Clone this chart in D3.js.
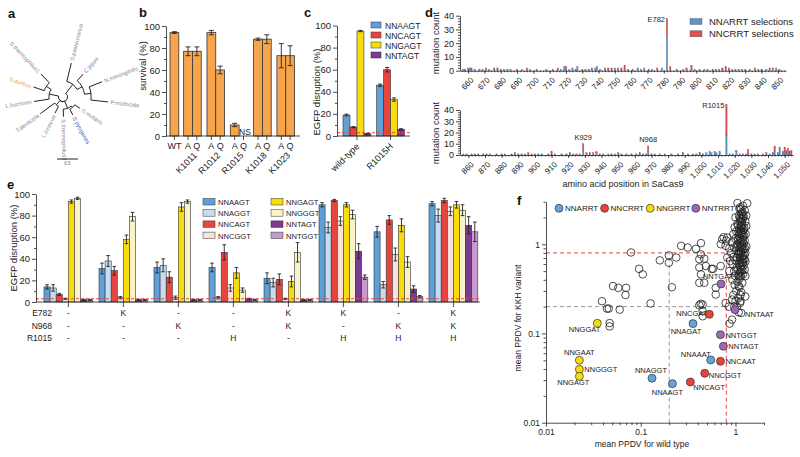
<!DOCTYPE html>
<html><head><meta charset="utf-8">
<script src="https://cdn.jsdelivr.net/npm/d3@7"></script>
<style>body{margin:0;background:#fff} svg{display:block}</style>
</head><body>
<svg id="c" width="800" height="457"></svg>
<script>
// ---------------- DATA ----------------
// a: tree (branch lengths)
const treeData = {len:0.12, children:[
 {len:0.3, children:[{name:"S.pasteurianus",len:0.5},{len:0.15,children:[{name:"C.jejuni",len:0.23},{len:0.17,children:[{name:"N.meningitidis",len:0.36},{name:"P.multocida",len:0.45}]}]}]},
 {len:0.2, children:[{len:0.05,children:[{name:"S.mutans",len:0.17},{name:"S.pyogenes",len:0.17}]},{name:"S.thermophilus3",len:0.2}]},
 {len:0.15, children:[{name:"L.innocua",len:0.2},{name:"T.denticola",len:0.47}]},
 {len:0.25, children:[{name:"L.buchneri",len:0.4},{len:0.15,children:[{name:"S.aureus",len:0.3},{name:"S.thermophilus1",len:0.32}]}]}
]};
const treeHighlight = {"S.aureus":"#f2a444","S.pyogenes":"#3c64b4"};

// b
const bBarLabels = ["WT","A","Q","A","Q","A","Q","A","Q","A","Q"];
const bGroupLabels = ["K1011","R1012","R1015","K1018","K1023"];
const bSurvival = [94,77,77,94,60,10,0,88,88,73,73];
const bError = [0.8,4,4,2,3.5,1.5,0,1,4,11,9];

// c
const cGroups = ["wild-type","R1015H"];
const cSeries = ["NNAAGT","NNCAGT","NNGAGT","NNTAGT"];
const cValues = [[19,8,95,2],[46,60,33,6]];
const cError = [[0.8,0.5,0.6,0.3],[1,2,1.5,0.6]];

// d  [position, NNARRT count, NNCRRT count]
const dTop = [
[657,1,0],[658,0,1],[660,2,0],[661,2,0],[662,1,1],[664,1,0],[667,0,1],[669,1,0],[671,0,2],[673,1,0],[676,1,1],[678,0,2],[680,1,0],[682,1,0],[684,0,1],[686,1,0],[690,0,1],[693,1,0],[696,0,2],[698,1,0],[702,1,0],[708,1,0],[712,0,1],[715,0,2],[717,1,0],[719,3,0],[720,0,3],[722,1,0],[724,2,0],[726,0,1],[727,3,0],[730,0,1],[732,1,0],[734,0,1],[736,1,1],[738,2,0],[739,3,0],[741,1,0],[744,0,2],[746,1,1],[748,0,2],[750,2,0],[752,1,1],[754,0,2],[756,0,4],[758,1,0],[761,0,1],[764,2,0],[766,1,0],[768,2,0],[771,0,1],[773,1,0],[776,0,2],[779,2,0],[782,25,13],[784,0,3],[788,1,0],[792,1,0],[794,0,2],[797,0,4],[799,1,0],[802,1,0],[805,1,0],[807,0,1],[810,1,0],[812,0,1],[814,1,0],[816,1,1],[818,0,3],[820,0,2],[822,1,0],[824,0,1],[826,1,0],[828,1,0],[830,0,1],[833,1,0],[836,0,2],[838,1,0],[840,0,1],[843,1,0],[845,0,2],[847,1,1],[849,2,0],[851,0,1]
];
const dBottom = [
[857,1,0],[859,0,1],[862,1,0],[864,0,1],[866,1,0],[869,0,1],[871,1,0],[873,0,1],[877,1,0],[880,0,1],[882,1,0],[886,0,1],[888,1,1],[890,1,0],[892,0,1],[894,1,0],[896,0,2],[898,1,0],[900,0,1],[902,1,0],[904,1,0],[908,1,0],[910,0,3],[912,0,1],[916,1,0],[919,0,1],[921,1,1],[923,1,0],[925,0,1],[927,1,0],[929,4,6],[931,0,2],[933,1,1],[935,0,2],[937,2,1],[939,0,1],[941,1,0],[944,1,0],[946,0,1],[948,1,0],[950,0,2],[952,1,0],[955,1,0],[958,0,1],[961,1,0],[963,1,1],[965,0,1],[967,1,0],[968,3,5],[970,0,1],[972,1,0],[975,0,1],[978,1,0],[982,1,0],[986,0,1],[989,1,1],[992,1,0],[995,0,1],[997,1,0],[999,1,1],[1001,0,1],[1003,2,0],[1005,3,0],[1006,2,0],[1008,3,0],[1009,2,0],[1011,3,0],[1015,17,28],[1017,1,0],[1019,1,0],[1021,3,1],[1023,1,0],[1025,0,1],[1027,1,0],[1028,0,5],[1030,1,0],[1032,1,0],[1034,0,1],[1037,1,0],[1039,0,2],[1041,1,0],[1043,1,1],[1044,3,5],[1046,2,0],[1047,7,0],[1049,1,2],[1050,3,4],[1051,1,3],[1052,0,6],[1053,2,1],[1054,0,4]
];
const dTopTicks = d3.range(660, 851, 10);
const dBottomTicks = d3.range(860, 1051, 10);
const dTopNotes = [[782,"E782"]];
const dBottomNotes = [[929,"K929"],[968,"N968"],[1015,"R1015"]];

// e
const eSeries = ["NNAAGT","NNAGGT","NNCAGT","NNCGGT","NNGAGT","NNGGGT","NNTAGT","NNTGGT"];
const eE782  = ["-","K","-","-","K","K","-","K"];
const eN968  = ["-","-","K","-","K","-","K","K"];
const eR1015 = ["-","-","-","H","-","H","H","H"];
const eValues = [
 [14,31,32,32,22,90,65,91],
 [13,38,34,4,18,69,16,80],
 [7,29,23,46,21,94,76,94],
 [3,4,4,13,3,75,44,84],
 [93,58,88,27,19,90,71,90],
 [96,79,93,11,46,81,37,85],
 [2,2,2,3,2,47,12,71],
 [2,2,2,2,2,23,5,65]
];
const eError = [
 [2,5,5,4,5,2,5,2],
 [3,5,6,1,4,5,3,6],
 [1,4,5,7,5,1,4,2],
 [0.5,1,1.5,3,0.5,4,6,4],
 [1.5,4,4,5,5,2,6,3],
 [1,4,1.5,2,9,4,5,5],
 [0.5,0.5,0.5,0.5,0.5,7,3,8],
 [0.5,0.5,0.5,0.5,0.5,2,1,9]
];

// f
const fLegend = ["NNARRT","NNCRRT","NNGRRT","NNTRRT"];
const fLabNames = ["NNGGAT","NNGAAT","NNGGGT","NNGAGT","NNAGGT","NNAAGT","NNCAGT","NNCGGT","NNAAAT","NNCAAT","NNTAGT","NNTGGT","NNAGAT","NNCGAT","NNTAAT","NNTGAT"];
const fLabX = [0.0348,0.0225,0.0225,0.0225,0.1315,0.216,0.334,0.474,0.548,0.694,0.745,0.694,0.356,0.53,0.99,0.705];
const fLabY = [0.130,0.0501,0.0397,0.0331,0.0315,0.0274,0.0286,0.0358,0.0505,0.0488,0.0719,0.097,0.129,0.164,0.185,0.359];
const fOpen = [
[0.079,0.81],[0.096,0.53],[0.105,0.46],[0.051,0.34],[0.058,0.325],[0.07,0.325],[0.069,0.27],[0.039,0.23],[0.044,0.19],[0.046,0.19],[0.06,0.185],[0.127,0.217],[0.159,0.66],[0.198,0.75],[0.198,0.62],[0.237,0.71],[0.213,0.33],[0.267,0.96],[0.313,0.92],[0.383,0.89],[0.432,1.03],[0.432,0.77],[0.415,0.68],[0.468,0.69],[0.415,0.55],[0.487,0.57],[0.58,0.53],[0.698,0.57],[0.432,0.46],[0.415,0.37],[0.468,0.37],[0.619,0.325],[0.619,0.273],[0.415,0.207],[0.45,0.211],[0.43,0.215],[0.45,0.178],[0.725,1.14],[0.787,0.96],[0.818,0.71],[0.047,0.131],[0.047,0.12],[0.45,0.156],[0.787,0.22],[0.92,0.143],[0.866,0.129],[1.08,0.173],[1.13,0.23],
[0.818,1.19],[0.56,0.53],[1.08,0.44],[1.27,0.44],[1.08,0.34],[1.13,0.27],[1.27,0.26],[1.04,0.2],[1.15,0.17],[0.85,0.2],[0.92,0.24],[0.75,1.2],[0.8,1.1],[0.7,1.0],[0.86,0.9],[0.88,0.65],[0.86,0.5],
[1.05,2.9],[1.33,2.88],[1.2,2.7],[1.1,2.5],[1.25,2.4],[1.15,2.2],[1.3,2.1],[1.0,2.0],[1.2,1.95],[1.12,1.85],[1.27,1.8],[1.05,1.7],[1.18,1.65],[1.3,1.6],[0.98,1.55],[1.1,1.5],[1.22,1.45],[1.02,1.4],[1.15,1.35],[1.28,1.3],[0.95,1.3],[1.08,1.25],[1.2,1.2],[1.0,1.15],[1.12,1.1],[1.25,1.1],[0.92,1.05],[1.05,1.0],[1.18,0.98],[1.3,0.95],[0.97,0.92],[1.1,0.9],[1.22,0.88],[1.02,0.85],[1.15,0.82],[0.9,0.8],[1.27,0.8],[1.07,0.77],[1.2,0.74],[0.95,0.72],[1.12,0.7],[1.25,0.68],[1.0,0.66],[1.17,0.63],[0.93,0.6],[1.08,0.6],[1.22,0.58],[1.03,0.55],[1.15,0.53],[0.97,0.5],[1.1,0.48],[1.2,0.46],[1.0,0.44],[1.12,0.42],[0.93,0.4],[1.05,0.38],[1.18,0.37],[0.98,0.35],[1.1,0.33],[1.02,0.3],[1.15,0.29],[0.95,0.27],[1.07,0.25],[1.0,0.23],[1.12,0.22],[0.97,0.2],
[1.13,1.75],[1.16,1.55],[1.14,1.42],[1.17,1.28],[1.11,1.18],[1.16,1.05],[1.13,0.94],[1.19,0.86],[1.1,0.78],[1.17,0.72],[1.13,0.66],[1.2,0.62],[1.12,0.56],[1.18,0.51],[1.14,0.44],[1.06,1.62],[1.24,1.52],[1.08,1.38],[1.23,1.25],[1.06,1.12],[1.22,1.02],[1.04,0.96],[1.26,0.9],[1.09,0.83],[1.24,0.76],[1.04,0.71],[1.27,0.64],[1.06,0.52],[1.25,0.52],[1.08,0.46],[1.09,2.1],[1.18,2.3],[1.12,2.6],[1.22,2.05],[1.15,1.95],
[1.14,2.45],[1.19,2.15],[1.11,1.98],[1.17,1.78],[1.14,1.6],[1.2,1.38],[1.1,1.3],[1.15,1.15],[1.19,1.1],[1.12,1.02],[1.17,0.92],[1.14,0.8],[1.21,0.68],[1.11,0.62],[1.16,0.58],[1.13,0.49]
];

// ---------------- STYLE ----------------
const FONT = "'Liberation Sans', Arial, sans-serif";
const INK = "#222";
const C = {blue:"#5fa0d8", lblue:"#c6dcf0", red:"#e8443e", pink:"#fbe0de", yellow:"#f9dc0e", lyellow:"#faf3c8", purple:"#7b3a93", lpurple:"#c79ccc", orange:"#f6a54c"};
const cColors = [C.blue, C.red, C.yellow, C.purple];
const eColors = [C.blue, C.lblue, C.red, C.pink, C.yellow, C.lyellow, C.purple, C.lpurple];
const fColors = ["#66a3d9","#e8443e","#f7da12","#9c68b4"];

const svg = d3.select("#c").attr("font-family", FONT);
svg.append("rect").attr("width",800).attr("height",457).attr("fill","#fff");

function styleAxis(sel, fs){
  sel.attr("font-size", fs).attr("font-family", FONT);
  sel.selectAll("line,path").attr("stroke", INK).attr("stroke-width", 0.8);
  sel.selectAll("text").attr("fill", INK);
}
function yAxis(x, scale, majors, minors, fs, fmt){
  const g = svg.append("g").attr("transform", `translate(${x},0)`);
  g.call(d3.axisLeft(scale).tickValues(majors).tickSize(4).tickSizeOuter(0).tickPadding(2).tickFormat(fmt || d3.format("d")));
  const m = g.append("g").call(d3.axisLeft(scale).tickValues(minors).tickSize(2).tickFormat(""));
  m.select(".domain").remove();
  styleAxis(g, fs);
  return g;
}
function text(x, y, s, opt={}){
  const t = svg.append("text").attr("x", x).attr("y", y).text(s)
    .attr("font-size", opt.fs || 9).attr("fill", opt.fill || INK)
    .attr("text-anchor", opt.anchor || "start");
  if (opt.bold) t.attr("font-weight", "bold");
  if (opt.rot !== undefined) t.attr("transform", `rotate(${opt.rot},${x},${y})`);
  return t;
}
function errBar(x, y1, y2, w){
  svg.append("line").attr("x1",x).attr("x2",x).attr("y1",y1).attr("y2",y2).attr("stroke",INK).attr("stroke-width",0.9);
  svg.append("line").attr("x1",x-w/2).attr("x2",x+w/2).attr("y1",y1).attr("y2",y1).attr("stroke",INK).attr("stroke-width",0.9);
  svg.append("line").attr("x1",x-w/2).attr("x2",x+w/2).attr("y1",y2).attr("y2",y2).attr("stroke",INK).attr("stroke-width",0.9);
}

// panel letters
[["a",8,18],["b",139,17],["c",304,17],["d",425,17],["e",7,189],["f",517,205]].forEach(p=>text(p[1],p[2],p[0],{fs:13,bold:true,fill:"#111"}));

// ---------------- A: tree ----------------
(function(){
  const cx = 63, cy = 97, k = 38;
  const root = d3.hierarchy(treeData);
  const n = root.leaves().length;
  d3.cluster().size([2*Math.PI*(n-1)/n, 1]).separation(()=>1)(root);
  root.each(d => { d.r = (d.parent ? d.parent.r : 0) + d.data.len * k; });
  const pt = (a, r) => [cx + r*Math.cos(a - Math.PI/2), cy + r*Math.sin(a - Math.PI/2)];
  const g = svg.append("g");
  root.links().forEach(l => {
    const s = l.source, t = l.target;
    const p0 = pt(s.x, s.r), p1 = pt(t.x, s.r), p2 = pt(t.x, t.r);
    const sweep = t.x > s.x ? 1 : 0;
    const large = Math.abs(t.x - s.x) > Math.PI ? 1 : 0;
    g.append("path").attr("d", `M${p0}A${s.r},${s.r} 0 ${large} ${sweep} ${p1}L${p2}`)
      .attr("fill","none").attr("stroke","#222").attr("stroke-width",1);
  });
  root.leaves().forEach(d => {
    const deg = d.x*180/Math.PI - 90;
    const norm = ((deg % 360) + 360) % 360;
    const flip = norm > 90.5 && norm <= 270.5;
    const [x, y] = pt(d.x, d.r + 2.5);
    g.append("text").attr("x", x).attr("y", y).attr("dy","0.35em")
      .attr("transform", `rotate(${flip ? deg-180 : deg},${x},${y})`)
      .attr("text-anchor", flip ? "end" : "start")
      .attr("font-size", 5.7).attr("fill", treeHighlight[d.data.name] || "#8a8a8a")
      .text(d.data.name);
  });
  svg.append("line").attr("x1",57).attr("x2",78).attr("y1",159).attr("y2",159).attr("stroke","#222").attr("stroke-width",1);
  text(67.5, 165, "0.5", {fs:4.5, anchor:"middle", fill:"#666"});
})();

// ---------------- B ----------------
(function(){
  const ax = 166;
  const y = d3.scaleLinear().domain([0,100]).range([136,26]);
  const x = d3.scaleLinear().domain([0,1]).range([170,178.8]);
  const slot = i => i === 0 ? 0 : 1.55 + Math.floor((i-1)/2)*2.65 + (i-1)%2;
  const bw = x(1)-x(0);
  bSurvival.forEach((v,i)=>{
    svg.append("rect").attr("x", x(slot(i))).attr("width", bw).attr("y", y(v)).attr("height", y(0)-y(v))
      .attr("fill", C.orange).attr("stroke", "#333").attr("stroke-width", 0.8);
    if (bError[i] > 0) errBar(x(slot(i))+bw/2, y(v+bError[i]), y(v-bError[i]), 5);
  });
  yAxis(ax, y, d3.range(0,101,20), d3.range(10,100,20), 9.5);
  svg.append("line").attr("x1",ax).attr("x2",300).attr("y1",136).attr("y2",136).attr("stroke",INK).attr("stroke-width",0.8);
  bBarLabels.forEach((s,i)=>{
    const cxp = x(slot(i))+bw/2;
    svg.append("line").attr("x1",cxp).attr("x2",cxp).attr("y1",136).attr("y2",140).attr("stroke",INK).attr("stroke-width",0.8);
    text(cxp, 149, s, {fs:9, anchor:"middle"});
  });
  bGroupLabels.forEach((s,g)=>{
    const gc = x(1.55 + g*2.65 + 1);
    text(gc+5, 156, s, {fs:9, anchor:"end", rot:-45});
  });
  text(239, 135, "NS", {fs:8.5});
  text(146, 66, "survival (%)", {fs:9.5, anchor:"middle", rot:-90});
})();

// ---------------- C ----------------
(function(){
  const y = d3.scaleLinear().domain([0,100]).range([136,25.5]);
  const xg = d3.scaleBand().domain(cGroups).range([343, 404.5]).paddingInner(0.17);
  const xs = d3.scaleBand().domain(cSeries).range([0, xg.bandwidth()]);
  cGroups.forEach((gname, gi)=>{
    cSeries.forEach((sname, si)=>{
      const v = cValues[gi][si];
      const bx = xg(gname)+xs(sname);
      svg.append("rect").attr("x", bx).attr("width", xs.bandwidth()).attr("y", y(v)).attr("height", y(0)-y(v))
        .attr("fill", cColors[si]).attr("stroke","#333").attr("stroke-width",0.6);
      errBar(bx+xs.bandwidth()/2, y(v+cError[gi][si]), y(v-cError[gi][si]), 4);
    });
  });
  svg.append("line").attr("x1",337).attr("x2",410).attr("y1",y(3)).attr("y2",y(3)).attr("stroke",C.red).attr("stroke-width",1).attr("stroke-dasharray","3,2");
  yAxis(337, y, d3.range(0,101,20), d3.range(10,100,20), 9.5);
  svg.append("line").attr("x1",337).attr("x2",410).attr("y1",136).attr("y2",136).attr("stroke",INK).attr("stroke-width",0.8);
  cGroups.forEach(gname=>{
    const gc = xg(gname)+xg.bandwidth()/2;
    svg.append("line").attr("x1",gc).attr("x2",gc).attr("y1",136).attr("y2",140).attr("stroke",INK).attr("stroke-width",0.8);
    text(gc+3, 147, gname, {fs:9, anchor:"end", rot:-45});
  });
  cSeries.forEach((s,i)=>{
    svg.append("rect").attr("x",371).attr("y",22+i*10).attr("width",10).attr("height",6).attr("fill",cColors[i]).attr("stroke","#333").attr("stroke-width",0.5);
    text(385, 28.5+i*10, s, {fs:8.5});
  });
  text(320, 92, "EGFP disruption (%)", {fs:9.5, anchor:"middle", rot:-90});
})();

// ---------------- D ----------------
function dPanel(data, domain, range, y0, y40, ticks, notes, noteSide){
  const x = d3.scaleLinear().domain(domain).range(range);
  const y = d3.scaleLinear().domain([0,40]).range([y0, y40]);
  const bw = (x(1)-x(0))*0.85;
  data.forEach(([p,a,c])=>{
    if (a>0) svg.append("rect").attr("x", x(p)-bw/2).attr("width", bw).attr("y", y(a)).attr("height", y(0)-y(a))
      .attr("fill", "#5b93cc").attr("stroke","#4a6f96").attr("stroke-width",0.3);
    if (c>0) svg.append("rect").attr("x", x(p)-bw/2).attr("width", bw).attr("y", y(a+c)).attr("height", y(a)-y(a+c))
      .attr("fill", "#de4f50").attr("stroke","#9a4a4a").attr("stroke-width",0.3);
  });
  yAxis(range[0], y, d3.range(0,41,10), d3.range(0,41,2).filter(v=>v%10), 9);
  const gx = svg.append("g").attr("transform", `translate(0,${y0})`);
  gx.call(d3.axisBottom(x).tickValues(ticks).tickSize(3).tickSizeOuter(0).tickFormat(""));
  const gm = gx.append("g").call(d3.axisBottom(x).tickValues(d3.range(Math.ceil(domain[0]/2)*2, domain[1]+1, 2)).tickSize(1.5).tickFormat(""));
  gm.select(".domain").remove();
  styleAxis(gx, 8);
  ticks.forEach(t=>{
    text(x(t)+4, y0+8, d3.format(",")(t), {fs:8, anchor:"end", rot:-45}).attr("dy","0.35em");
  });
  notes.forEach(([p,s])=>{
    const tot = data.find(d=>d[0]===p);
    const top = y(tot[1]+tot[2]);
    if (noteSide[s]==="left") text(x(p)-2, top+4, s, {fs:7.5, anchor:"end"});
    else text(x(p), top-4, s, {fs:7.5, anchor:"middle"});
  });
  return x;
}
dPanel(dTop, [655,855], [460,786], 70.7, 15.7, dTopTicks, dTopNotes, {"E782":"left"});
dPanel(dBottom, [855,1055], [460,793], 155, 110, dBottomTicks, dBottomNotes, {"R1015":"left"});
text(439, 43, "mutation count", {fs:9.5, anchor:"middle", rot:-90});
text(439, 133, "mutation count", {fs:9.5, anchor:"middle", rot:-90});
text(623, 187, "amino acid position in SaCas9", {fs:9, anchor:"middle"});
[["NNARRT selections","#5b93cc"],["NNCRRT selections","#de4f50"]].forEach(([s,col],i)=>{
  svg.append("rect").attr("x",690).attr("y",18.5+i*12.3).attr("width",12).attr("height",6).attr("fill",col).attr("stroke","#555").attr("stroke-width",0.4);
  text(709, 25+i*12.3, s, {fs:9.5});
});

// ---------------- E ----------------
(function(){
  const y = d3.scaleLinear().domain([0,100]).range([302,194]);
  const xg = d3.scaleBand().domain(d3.range(eE782.length)).range([44, 477.8]).paddingInner(0.113);
  const xs = d3.scaleBand().domain(d3.range(eSeries.length)).range([0, xg.bandwidth()]);
  eSeries.forEach((s,si)=>{
    eValues[si].forEach((v,gi)=>{
      const bx = xg(gi)+xs(si);
      svg.append("rect").attr("x",bx).attr("width",xs.bandwidth()).attr("y",y(v)).attr("height",y(0)-y(v))
        .attr("fill",eColors[si]).attr("stroke","#333").attr("stroke-width",0.6);
      errBar(bx+xs.bandwidth()/2, y(v+eError[si][gi]), y(Math.max(0,v-eError[si][gi])), 3.6);
    });
  });
  svg.append("line").attr("x1",36).attr("x2",480).attr("y1",y(3)).attr("y2",y(3)).attr("stroke",C.red).attr("stroke-width",1).attr("stroke-dasharray","3,2");
  yAxis(36, y, d3.range(0,101,20), d3.range(10,100,20), 9.5);
  svg.append("line").attr("x1",36).attr("x2",480).attr("y1",302).attr("y2",302).attr("stroke",INK).attr("stroke-width",0.8);
  const rows = [["E782",eE782],["N968",eN968],["R1015",eR1015]];
  rows.forEach(([lab,arr],ri)=>{
    const yy = 316 + ri*12.5;
    text(52, yy, lab, {fs:8.5, anchor:"end"});
    arr.forEach((s,gi)=> text(xg(gi)+xg.bandwidth()/2, yy, s, {fs:8.5, anchor:"middle"}));
  });
  d3.range(eE782.length).forEach(gi=>{
    const gc = xg(gi)+xg.bandwidth()/2;
    svg.append("line").attr("x1",gc).attr("x2",gc).attr("y1",302).attr("y2",307).attr("stroke",INK).attr("stroke-width",0.8);
  });
  eSeries.forEach((s,i)=>{
    const col = Math.floor(i/4), row = i%4;
    svg.append("rect").attr("x",203+col*68).attr("y",198.5+row*11.2).attr("width",12).attr("height",6.5)
      .attr("fill",eColors[i]).attr("stroke","#333").attr("stroke-width",0.5);
    text(218+col*68, 205+row*11.2, s, {fs:7.6});
  });
  text(17, 248, "EGFP disruption (%)", {fs:9.5, anchor:"middle", rot:-90});
})();

// ---------------- F ----------------
(function(){
  const x = d3.scaleLog().domain([0.01,2]).range([546,764]);
  const y = d3.scaleLog().domain([0.01,3]).range([422.7,201.7]);
  const minX = [2,3,4,5,6,7,8,9].map(d=>d*0.01).concat([2,3,4,5,6,7,8,9].map(d=>d*0.1),[2]);
  const minY = [2,3,4,5,6,7,8,9].map(d=>d*0.01).concat([2,3,4,5,6,7,8,9].map(d=>d*0.1),[2,3]);
  const fmt = d3.format("~g");
  const dash = (x1,y1,x2,y2,col)=>svg.append("line").attr("x1",x1).attr("x2",x2).attr("y1",y1).attr("y2",y2)
     .attr("stroke",col).attr("stroke-width",1).attr("stroke-dasharray","4,3");
  dash(546, y(0.2), x(0.8), y(0.2), "#9a9a9a");
  dash(x(0.2), 422.7, x(0.2), y(0.8), "#9a9a9a");
  dash(546, y(0.8), x(0.8), y(0.8), "#e8443e");
  dash(x(0.8), 422.7, x(0.8), y(0.8), "#e8443e");
  svg.append("g").selectAll("circle").data(fOpen).join("circle")
    .attr("cx",d=>x(d[0])).attr("cy",d=>y(d[1])).attr("r",3.8)
    .attr("fill","none").attr("stroke","#222").attr("stroke-width",0.8);
  const typeIdx = n => ({A:0,C:1,G:2,T:3})[n[2]];
  const lab = {
    NNGGAT:[3,9,"end"], NNGAAT:[0,-5.5,"middle"], NNGGGT:[5,3,"start"], NNGAGT:[10,9,"end"],
    NNAGGT:[-1,-5,"middle"], NNAAGT:[-5,11,"middle"], NNCAGT:[3,8,"start"], NNCGGT:[4,4.5,"start"],
    NNAAAT:[0,-3,"end"], NNCAAT:[5,2.5,"start"], NNTAGT:[5,2.5,"start"], NNTGGT:[5,3,"start"],
    NNAGAT:[-7,10,"middle"], NNCGAT:[-2,1.5,"end"], NNTAAT:[10,7,"start"], NNTGAT:[-3,-5,"middle"]
  };
  fLabNames.forEach((n,i)=>{
    const px = x(fLabX[i]), py = y(fLabY[i]);
    const o = lab[n];
    text(px+o[0], py+o[1], n, {fs:7.5, anchor:o[2]});
  });
  fLabNames.forEach((n,i)=>{
    svg.append("circle").attr("cx",x(fLabX[i])).attr("cy",y(fLabY[i])).attr("r",4)
      .attr("fill",fColors[typeIdx(n)]).attr("stroke","#333").attr("stroke-width",0.7);
  });
  const gy = svg.append("g").attr("transform","translate(546,0)");
  gy.call(d3.axisLeft(y).tickValues([0.01,0.1,1]).tickSize(4).tickSizeOuter(0).tickPadding(2).tickFormat(fmt));
  gy.append("g").call(d3.axisLeft(y).tickValues(minY).tickSize(2.5).tickFormat("")).select(".domain").remove();
  styleAxis(gy, 8.5);
  const gx = svg.append("g").attr("transform","translate(0,422.7)");
  gx.call(d3.axisBottom(x).tickValues([0.01,0.1,1]).tickSize(4).tickSizeOuter(0).tickPadding(2).tickFormat(fmt));
  gx.append("g").call(d3.axisBottom(x).tickValues(minX).tickSize(2.5).tickFormat("")).select(".domain").remove();
  styleAxis(gx, 8.5);
  text(642, 447, "mean PPDV for wild type", {fs:8.5, anchor:"middle"});
  text(521, 318, "mean PPDV for KKH variant", {fs:8.5, anchor:"middle", rot:-90});
  fLegend.forEach((s,i)=>{
    const lx = 559 + i*45.6;
    svg.append("circle").attr("cx",lx).attr("cy",208.3).attr("r",4).attr("fill",fColors[i]).attr("stroke","#333").attr("stroke-width",0.7);
    text(lx+6, 211.2, s, {fs:8});
  });
})();
</script>
</body></html>
